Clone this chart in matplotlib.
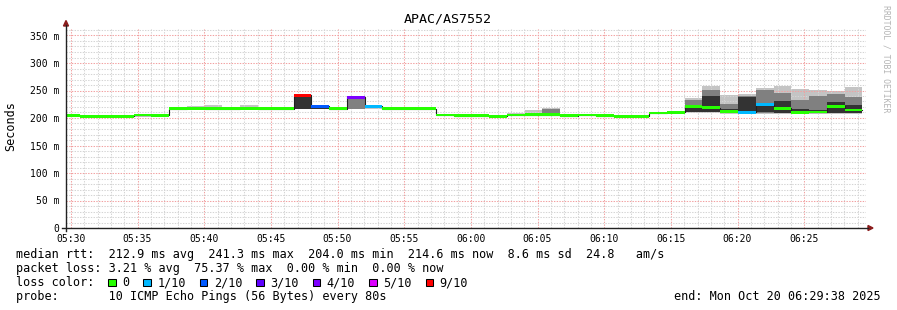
import numpy as np
import matplotlib
matplotlib.use('Agg')
import matplotlib.pyplot as plt
from matplotlib.patches import Polygon, Rectangle
from matplotlib.lines import Line2D

# --- data (one value per 80 s probe round) ---
first_step = "05:29:22"
step_sec = 80

median = [205.0, 203.5, 203.5, 203.5, 205.5, 205.0,
          216.5, 217.5, 216.5, 216.5, 218.0, 216.5, 216.5,
          241.3, 221.0, 216.5, 238.0, 221.5, 216.5, 216.5, 216.5,
          205.5, 204.0, 204.5, 203.5, 205.5, 206.0, 206.0, 204.5, 205.5, 204.5, 203.5, 203.5,
          209.0, 210.5, 221.5, 218.5, 212.0, 210.0, 224.5, 218.0, 210.0, 211.0, 221.0, 214.6]
loss = [0, 0, 0, 0, 0, 0,
        0, 0, 0, 0, 0, 0, 0,
        9, 2, 0, 4, 1, 0, 0, 0,
        0, 0, 0, 0, 0, 0, 0, 0, 0, 0, 0, 0,
        0, 0, 0, 0, 0, 1, 1, 0, 0, 0, 0, 0]

# smoke: outer (light), middle and inner (dark) ranges of the 10 pings
outer_lo = [204.5, 203, 203, 203, 202, 204,
            215.5, 215.5, 215.5, 215.5, 216.5, 215.5, 215.5,
            216.5, 216, 216, 216, 217, 215.5, 215.5, 215.5,
            205, 203.5, 204, 203, 204.5, 205, 205, 204, 205, 204, 203, 203,
            208.5, 209.5, 210, 209, 207, 207, 207, 208, 207, 208, 208, 208]
outer_hi = [206, 204.5, 204.5, 204.5, 206, 206,
            219.5, 222, 224, 219.5, 223, 219.5, 217.5,
            241.5, 221.5, 218, 238.5, 222, 220, 219, 217.5,
            206.5, 205, 205.5, 204.5, 208.5, 214, 218.5, 205.5, 208, 205.5, 204.5, 204.5,
            210, 211.5, 237, 257.5, 241, 243, 255, 257.5, 253, 251.5, 249, 256]
mid_lo = [np.nan] * 26 + [205.5, 205.5, np.nan, 205.5] + [np.nan] * 15
mid_hi = [np.nan] * 26 + [210, 216, np.nan, 207.5] + [np.nan] * 15
mid_lo[13:18] = [217, 216.5, np.nan, 216.5, 217.5]
mid_hi[13:18] = [241, 221, np.nan, 238, 222]
mid_lo[35:45] = [211, 211, 209, 208, 209, 209, 208, 209, 209, 209]
mid_hi[35:45] = [233, 251.5, 226, 240, 251.5, 245, 232, 239.5, 244, 238]
in_lo = [np.nan] * 45
in_hi = [np.nan] * 45
in_lo[13:15] = [217, 216.5]
in_hi[13:15] = [241, 221]
in_lo[35:45] = [211, 211, 211, 210, 211, 210, 209, 210, 209, 209]
in_hi[35:45] = [221, 239.5, 217, 238, 224, 231, 217, 215, 229, 223]

loss_colors = {0: '#26ff00', 1: '#00b8ff', 2: '#0059ff', 3: '#5e00ff',
               4: '#7e00ff', 5: '#dd00ff', 9: '#ff0000'}
loss_labels = ['0', '1/10', '2/10', '3/10', '4/10', '5/10', '9/10']
loss_keys = [0, 1, 2, 3, 4, 5, 9]

yticks = [0, 50, 100, 150, 200, 250, 300, 350]
ytick_labels = ['0', '50 m', '100 m', '150 m', '200 m', '250 m', '300 m', '350 m']

W, H = 897, 310
def fx(px):
    return px / W
def fy(py):
    return 1 - py / H

mono = 'DejaVu Sans Mono'
h, m, s = [int(v) for v in first_step.split(':')]
t_first = h * 3600 + m * 60 + s
starts = t_first + step_sec * np.arange(len(median))
t_lo, t_hi = 5 * 3600 + 29 * 60 + 38, 6 * 3600 + 29 * 60 + 38

fig = plt.figure(figsize=(W / 100, H / 100), dpi=100)
ax = fig.add_axes([fx(66), fy(228), 800 / W, 200 / H])
ax.set_xlim(t_lo, t_hi)
ax.set_ylim(0, 200 / 0.55)

# smoke
ax.bar(starts, np.array(outer_hi) - np.array(outer_lo), bottom=outer_lo, width=step_sec,
       align='edge', color='#c4c4c4', linewidth=0, zorder=2)
ax.bar(starts, np.array(mid_hi) - np.array(mid_lo), bottom=mid_lo, width=step_sec,
       align='edge', color='#808080', linewidth=0, zorder=3)
ax.bar(starts, np.array(in_hi) - np.array(in_lo), bottom=in_lo, width=step_sec,
       align='edge', color='#333333', linewidth=0, zorder=4)

# median: thin dark step line + coloured band by loss
edges = np.append(starts, starts[-1] + step_sec)
ax.step(edges, median + [median[-1]], where='post', color='#202020', lw=0.8, zorder=5)
med = np.array(median)
cols = [loss_colors[l] for l in loss]
ax.bar(starts, 5.2, bottom=med - 2.6, width=step_sec, align='edge', color=cols,
       linewidth=0, zorder=6)

# grid
major_x = np.arange(5 * 3600 + 30 * 60, t_hi, 300)
minor_x = np.arange(5 * 3600 + 30 * 60, t_hi, 60)
ax.set_xticks(major_x)
ax.set_xticks(minor_x, minor=True)
ax.set_xticklabels(['%02d:%02d' % (t // 3600, (t % 3600) // 60) for t in major_x],
                   fontfamily=mono, fontsize=7)
ax.set_yticks(yticks)
ax.set_yticks(np.arange(0, 361, 10), minor=True)
ax.set_yticklabels(ytick_labels, fontfamily=mono, fontsize=7)
ax.tick_params(which='both', length=0)
ax.tick_params(axis='x', pad=4)
ax.tick_params(axis='y', pad=5)
ax.grid(which='minor', color='#d4d4d4', lw=0.75, linestyle=(0, (1.3, 1.3)), zorder=7)
ax.grid(which='major', color='#f2a0a0', lw=0.75, linestyle=(0, (1.3, 1.3)), zorder=7)
ax.set_axisbelow(False)
for sp in ax.spines.values():
    sp.set_visible(False)

# axes with arrows
fig.add_artist(Line2D([fx(62), fx(868)], [fy(228), fy(228)], color='#222222', lw=1.0))
fig.add_artist(Line2D([fx(66), fx(66)], [fy(231), fy(25)], color='#222222', lw=1.0))
fig.add_artist(Polygon([[fx(868), fy(225.5)], [fx(873), fy(228)], [fx(868), fy(230.5)]],
                       closed=True, color='#8b1c1c', transform=fig.transFigure))
fig.add_artist(Polygon([[fx(63.5), fy(26)], [fx(66), fy(20.5)], [fx(68.5), fy(26)]],
                       closed=True, color='#8b1c1c', transform=fig.transFigure))

fig.text(fx(448), fy(19), 'APAC/AS7552', ha='center', va='center', fontfamily=mono, fontsize=9.6)
fig.text(fx(11), fy(126), 'Seconds', rotation=90, ha='center', va='center',
         fontfamily=mono, fontsize=8.5)
fig.text(fx(886), fy(59), 'RRDTOOL / TOBI OETIKER', rotation=270, ha='center', va='center',
         fontfamily=mono, fontsize=5.9, color='#b4b4b4')

# legend rows
cw = 7.06
x0 = 16
rows = [254.8, 268.6, 282.6, 296.6]
fig.text(fx(x0), fy(rows[0]),
         'median rtt:  212.9 ms avg  241.3 ms max  204.0 ms min  214.6 ms now  8.6 ms sd  24.8   am/s',
         va='center', fontfamily=mono, fontsize=8.5)
fig.text(fx(x0), fy(rows[1]), 'packet loss: 3.21 % avg  75.37 % max  0.00 % min  0.00 % now',
         va='center', fontfamily=mono, fontsize=8.5)
fig.text(fx(x0), fy(rows[2]), 'loss color:', va='center', fontfamily=mono, fontsize=8.5)
col = 13
for key, lab in zip(loss_keys, loss_labels):
    sx = x0 + col * cw + 0.3
    fig.add_artist(Rectangle((fx(sx), fy(rows[2] + 3.8)), 7.6 / W, 7.6 / H,
                             facecolor=loss_colors[key], edgecolor='black', lw=0.75,
                             transform=fig.transFigure))
    fig.text(fx(x0 + (col + 2) * cw), fy(rows[2]), lab, va='center', fontfamily=mono, fontsize=8.5)
    col += 2 + len(lab) + 2
fig.text(fx(x0), fy(rows[3]), 'probe:       10 ICMP Echo Pings (56 Bytes) every 80s',
         va='center', fontfamily=mono, fontsize=8.5)
fig.text(fx(881), fy(rows[3]), 'end: Mon Oct 20 06:29:38 2025', ha='right', va='center',
         fontfamily=mono, fontsize=8.5)

fig.savefig('out.png', dpi=100, facecolor='white')
